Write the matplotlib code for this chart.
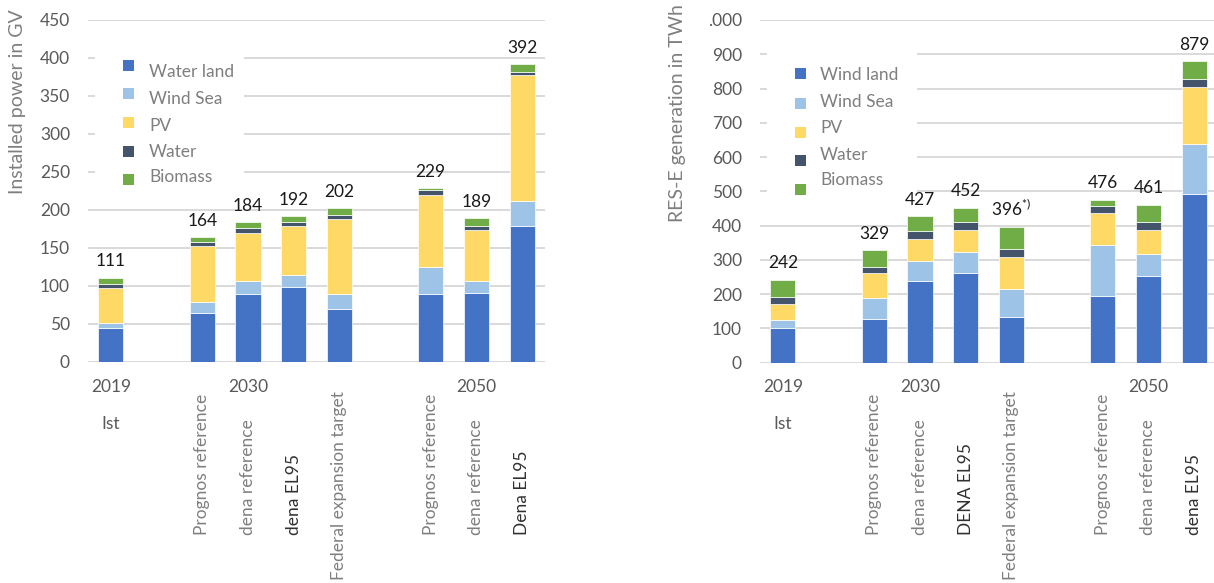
import numpy as np
import matplotlib
matplotlib.use("Agg")
import matplotlib.pyplot as plt
from matplotlib.patches import Rectangle
from matplotlib.transforms import blended_transform_factory

plt.rcParams['font.family'] = ['Lato', 'DejaVu Sans']

# slot index of each bar (slots 1 and 6 stay empty as group gaps)
slots = [0, 2, 3, 4, 5, 7, 8, 9]
colors = ['#4472C4', '#9DC3E6', '#FFD966', '#44546A', '#70AD47']

# installed power, GW
power_names = ['Water land', 'Wind Sea', 'PV', 'Water', 'Biomass']
power_wind_land = [45, 64, 90, 99, 70, 89, 91, 179]
power_wind_sea = [6, 15, 16, 15, 19, 36, 16, 33]
power_pv = [46, 73, 64, 65, 99, 95, 67, 165]
power_water = [6, 6, 6, 5, 6, 6, 5, 5]
power_biomass = [8, 6, 8, 8, 8, 3, 10, 10]
power_labels = ['111', '164', '184', '192', '202', '229', '189', '392']
power_cats = ['Prognos reference', 'dena reference', 'dena EL95',
              'Federal expansion target', 'Prognos reference',
              'dena reference', 'Dena EL95']

# RES-E generation, TWh
gen_names = ['Wind land', 'Wind Sea', 'PV', 'Water', 'Biomass']
gen_wind_land = [100, 128, 237, 261, 133, 194, 254, 493]
gen_wind_sea = [24, 61, 61, 63, 83, 150, 63, 146]
gen_pv = [48, 72, 62, 62, 93, 92, 70, 166]
gen_water = [20, 19, 25, 23, 22, 20, 24, 24]
gen_biomass = [50, 49, 42, 43, 65, 20, 50, 50]
gen_labels = ['242', '329', '427', '452', r'396$^{\mathregular{*)}}$',
              '476', '461', '879']
gen_cats = ['Prognos reference', 'dena reference', 'DENA EL95',
            'Federal expansion target', 'Prognos reference',
            'dena reference', 'dena EL95']

W, H = 1214, 583
fig = plt.figure(figsize=(W / 100, H / 100), dpi=100)


def fy(py):
    return 1 - py / H


def fx(px):
    return px / W


def draw(ax, series, names, labels, cats, ymax, step, ticklabels,
         leg_marker_x, leg_text_x, leg_marker_y, leg_text_y, leg_box,
         dark_cats, ylabel, ylabel_xy):
    x = np.array(slots)
    bottom = np.zeros(len(x))
    for vals, c in zip(series, colors):
        ax.bar(x, vals, 0.55, bottom=bottom, color=c, edgecolor='white',
               linewidth=0.5, zorder=2)
        bottom += np.array(vals)
    for xi, top, lab in zip(x, bottom, labels):
        ax.annotate(lab, (xi, top), xytext=(0, 6), textcoords='offset points',
                    ha='center', va='bottom', fontsize=12.5, color='#1a1a1a')

    ax.set_xlim(-0.5, 9.5)
    ax.set_ylim(0, ymax)
    ticks = np.arange(0, ymax + 1, step)
    ax.set_yticks(ticks)
    ax.set_yticklabels(ticklabels)
    ax.tick_params(axis='y', length=0, pad=13, labelsize=12.5,
                   labelcolor='#595959')
    ax.set_xticks([])
    ax.grid(axis='y', color='#D9D9D9', linewidth=1.4)
    ax.set_axisbelow(True)
    for s in ax.spines.values():
        s.set_visible(False)

    tr = blended_transform_factory(ax.transData, fig.transFigure)
    for xs, txt in [(0, '2019'), (3, '2030'), (8, '2050')]:
        ax.text(xs, fy(387), txt, transform=tr, ha='center', va='center',
                fontsize=12.5, color='#595959')
    ax.text(0, fy(424), 'Ist', transform=tr, ha='center', va='center',
            fontsize=12.5, color='#595959')
    for xs, txt in zip(slots[1:], cats):
        bot = 580 if txt.startswith('Federal') else 535
        dark = txt in dark_cats
        ax.text(xs, fy(bot), txt, transform=tr, rotation=90, ha='center',
                va='bottom', fontsize=12.5,
                color='#303030' if dark else '#7F7F7F')

    # legend on a white box over the gridlines
    bx0, by0, bx1, by1 = leg_box
    ax.add_patch(Rectangle((fx(bx0), fy(by1)), fx(bx1 - bx0), (by1 - by0) / H,
                           transform=fig.transFigure, facecolor='white',
                           edgecolor='none', zorder=1.5, clip_on=False))
    for name, c, my, ty in zip(names, colors, leg_marker_y, leg_text_y):
        ax.add_patch(Rectangle((fx(leg_marker_x), fy(my + 5.5)), fx(11), 11 / H,
                               transform=fig.transFigure, facecolor=c,
                               edgecolor='none', zorder=3, clip_on=False))
        ax.text(fx(leg_text_x), fy(ty), name, transform=fig.transFigure,
                ha='left', va='center', fontsize=12.5, color='#7F7F7F')

    fig.text(fx(ylabel_xy[0]), fy(ylabel_xy[1]), ylabel, rotation=90,
             ha='center', va='center', fontsize=14, color='#7F7F7F')


ax1 = fig.add_axes([fx(88), fy(362), fx(545 - 88), (362 - 20) / H])
draw(ax1,
     [power_wind_land, power_wind_sea, power_pv, power_water, power_biomass],
     power_names, power_labels, power_cats, 450, 50,
     [str(v) for v in range(0, 451, 50)],
     123, 149, [65, 93, 122, 151, 179], [72, 99, 126, 152, 177],
     (95, 40, 244, 190), ['dena EL95', 'Dena EL95'],
     'Installed power in GV', (18, 102))

ax2 = fig.add_axes([fx(760), fy(362.6), fx(1217 - 760), (362.6 - 20) / H])
draw(ax2,
     [gen_wind_land, gen_wind_sea, gen_pv, gen_water, gen_biomass],
     gen_names, gen_labels, gen_cats, 1000, 100,
     [str(v) for v in range(0, 901, 100)] + ['.000'],
     795, 820, [73, 103, 132, 160, 189], [75, 102, 128, 155, 180],
     (767, 50, 917, 195), ['DENA EL95', 'dena EL95'],
     'RES-E generation in TWh', (678, 113))

fig.savefig('out.png', dpi=100)
